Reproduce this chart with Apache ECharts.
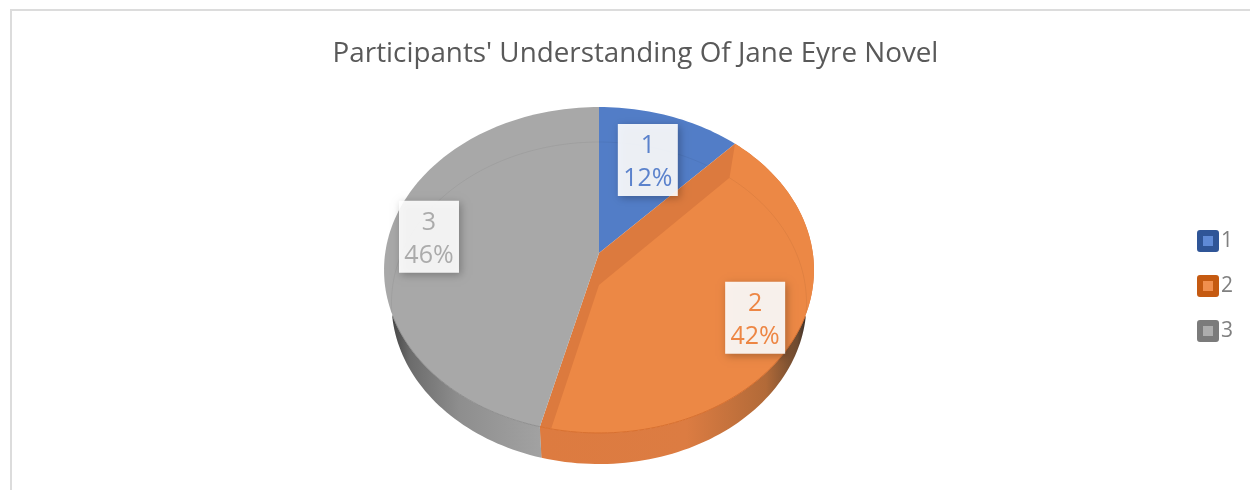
<!DOCTYPE html>
<html>
<head>
<meta charset="utf-8">
<style>
  html, body { margin: 0; padding: 0; background: #fff; }
  #main { position: absolute; left: 0; top: 0; width: 1250px; height: 490px; }
  #frame { position: absolute; left: 10px; top: 9px; right: 0; bottom: 0; border-left: 2px solid #dcdcdc; border-top: 2px solid #dcdcdc; }
</style>
<script src="https://cdn.jsdelivr.net/npm/echarts@6/dist/echarts.min.js"></script>
</head>
<body>
<div id="frame"></div>
<div id="main"></div>
<script>
const titleText = "Participants' Understanding Of Jane Eyre Novel";
const categories = ["1", "2", "3"];
const shares = [12, 42, 46];

// colours, same order as categories
const faceColors = ["#527dc7", "#dc7a3e", "#a8a8a8"];
const innerColors = [null, "#ec8845", null];
const labelColors = ["#5b82cc", "#ed8644", "#ababab"];
const legendDark = ["#2f5597", "#c55a11", "#7b7b7b"];
const legendLight = ["#5f8ad6", "#f08f4e", "#adadad"];
const wallStops = [
  null,
  [[0, "#dd7b40"], [0.55, "#dc7c42"], [0.85, "#b26a38"], [0.97, "#6d4a30"], [1, "#3a2e28"]],
  [[0, "#464646"], [0.12, "#6c6c6c"], [0.45, "#8e8e8e"], [1, "#a2a2a2"]],
];
const labelRadius = [0.66, 0.8, 0.81];

// the tilted disc: top rim and the slightly smaller rim underneath
const topRim = { cx: 599, cy: 253, a: 161.2, b: 213.8, k: 0.1043 };
const lowRim = { cx: 599, cy: 285, a: 159, b: 206.2, k: 0.112 };

const total = shares.reduce((s, v) => s + v, 0);
const starts = shares.map((v, i) => shares.slice(0, i).reduce((s, x) => s + x, 0) / total * 360);

function project(rim, deg, r) {
  const t = deg * Math.PI / 180;
  const u = Math.sin(t) * r, v = -Math.cos(t) * r;
  const d = 1 - rim.k * v;
  return [rim.cx + rim.b * u / d, rim.cy + rim.a * v / d];
}

function insideRim(rim, p) {
  const yTop = rim.cy - rim.a / (1 + rim.k), yBot = rim.cy + rim.a / (1 - rim.k);
  const rx = rim.b / Math.sqrt(1 - rim.k * rim.k);
  const dx = (p[0] - rim.cx) / rx, dy = (p[1] - (yTop + yBot) / 2) / ((yBot - yTop) / 2);
  return dx * dx + dy * dy <= 1;
}

function arc(rim, from, to) {
  const pts = [];
  const n = Math.max(2, Math.ceil((to - from) / 1.5));
  for (let i = 0; i <= n; i++) pts.push(project(rim, from + (to - from) * i / n, 1));
  return pts;
}

function sliceRenderer(idx) {
  return function (params, api) {
    const from = starts[idx];
    const sweep = api.value(0) / total * 360;
    const to = from + sweep;
    const children = [];
    const apexTop = project(topRim, 0, 0), apexLow = project(lowRim, 0, 0);
    const lowArc = arc(lowRim, from, to), topArc = arc(topRim, from, to);

    children.push({ type: "polygon", shape: { points: [apexTop].concat(topArc) }, style: { fill: faceColors[idx] } });
    if (innerColors[idx]) {
      // lit face reaches the top rim, the darker cut stays along the two radii
      const lit = [apexLow, lowArc[0]].concat(topArc, [lowArc[lowArc.length - 1]]);
      children.push({ type: "polygon", shape: { points: lit }, style: { fill: innerColors[idx] } });
    }

    // side wall, only where the lower rim pokes out from under the top one
    const wall = lowArc.filter(p => !insideRim(topRim, p))
      .concat(topArc.filter(p => insideRim(lowRim, p)).reverse());
    if (wallStops[idx] && wall.length > 2) {
      const xs = wall.map(p => p[0]);
      const x0 = Math.min.apply(null, xs), x1 = Math.max.apply(null, xs);
      children.push({
        type: "polygon",
        shape: { points: wall },
        style: { fill: new echarts.graphic.LinearGradient(x0, 0, x1, 0, wallStops[idx].map(s => ({ offset: s[0], color: s[1] })), true) },
      });
      children.push({
        type: "polyline",
        shape: { points: topArc.filter(p => insideRim(lowRim, p)) },
        style: { stroke: idx === 1 ? "#d8702f" : "#8f8f8f", lineWidth: 1, fill: null },
      });
    }

    // faint lower rim seen through the top face
    children.push({
      type: "polyline",
      shape: { points: lowArc.filter(p => insideRim(topRim, p)) },
      style: { stroke: "rgba(0,0,0,0.05)", lineWidth: 1, fill: null },
    });

    const c = project(topRim, from + sweep / 2, labelRadius[idx]);
    children.push({
      type: "rect",
      z2: 50,
      shape: { x: c[0] - 30, y: c[1] - 36, width: 60, height: 72 },
      style: { fill: "rgba(255,255,255,0.9)", shadowBlur: 8, shadowColor: "rgba(0,0,0,0.3)", shadowOffsetX: 2, shadowOffsetY: 2 },
    });
    children.push({
      type: "text",
      z2: 51,
      style: {
        x: c[0], y: c[1] + 2.5, text: categories[idx] + "\n" + api.value(0) + "%",
        fill: labelColors[idx], fontSize: 25, lineHeight: 33, fontFamily: "Open Sans",
        align: "center", verticalAlign: "middle",
      },
    });
    return { type: "group", children: children };
  };
}

const chart = echarts.init(document.getElementById("main"), null, { renderer: "canvas" });
chart.setOption({
  animation: false,
  backgroundColor: "transparent",
  title: {
    text: titleText,
    left: 630.5,
    top: 35,
    textAlign: "center",
    textStyle: { color: "#595959", fontSize: 27.8, fontWeight: "normal", fontFamily: "Open Sans" },
  },
  legend: {
    orient: "vertical",
    left: 1192,
    top: 225,
    itemWidth: 16,
    itemHeight: 16,
    itemGap: 23,
    icon: "rect",
    textStyle: { color: "#808080", fontSize: 21, fontFamily: "Open Sans" },
    data: categories.map((name, i) => ({
      name: name,
      itemStyle: { color: legendLight[i], borderColor: legendDark[i], borderWidth: 6, borderJoin: "round" },
    })),
  },
  series: categories.map((name, i) => ({
    type: "custom",
    name: name,
    coordinateSystem: "none",
    itemStyle: { color: faceColors[i] },
    renderItem: sliceRenderer(i),
    data: [[shares[i]]],
  })),
});
</script>
</body>
</html>
